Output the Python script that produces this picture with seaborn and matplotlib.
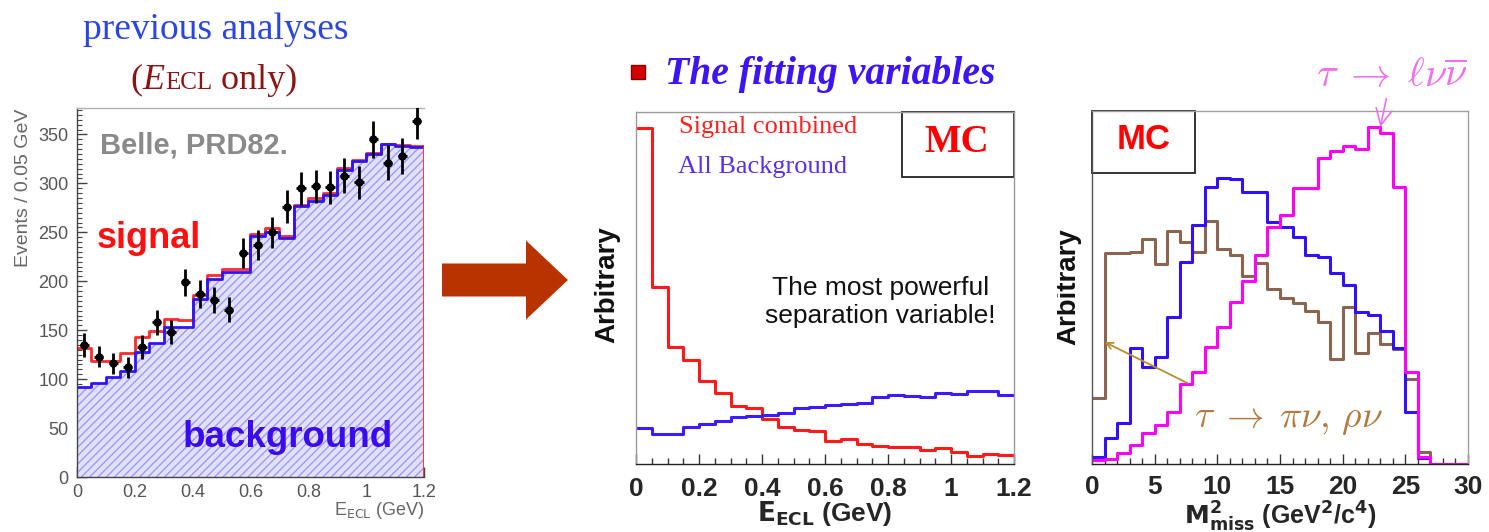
import numpy as np
import pandas as pd
import matplotlib
matplotlib.use("Agg")
import matplotlib.pyplot as plt
import seaborn as sns
from matplotlib.patches import Rectangle, FancyArrow
from matplotlib.ticker import MultipleLocator, FuncFormatter
from matplotlib.offsetbox import TextArea, HPacker, AnnotationBbox

# ---------------- E_ECL fit, Belle PRD82 ----------------
ecl_edges = [round(0.05 * i, 3) for i in range(25)]
ecl_centers = [round(e + 0.025, 3) for e in ecl_edges[:-1]]
belle_bkg = [92, 96, 102, 108, 128, 137, 153, 153, 182, 202, 209, 209,
             246, 250, 244, 277, 282, 288, 314, 323, 330, 340, 338, 337]
belle_total = [132, 119, 119, 127, 143, 149, 161, 160, 186, 206, 212, 212,
               248, 254, 246, 278, 285, 290, 316, 324, 331, 340, 339, 338]
belle_data = [135, 123, 116, 112, 133, 158, 148, 199, 187, 181, 171, 229,
              237, 250, 276, 295, 297, 296, 308, 301, 345, 321, 328, 364]
belle_err = [12, 11, 11, 11, 12, 13, 12, 14, 14, 13, 13, 15,
             15, 16, 17, 17, 17, 17, 18, 17, 19, 18, 18, 19]

# ---------------- MC shapes in E_ECL ----------------
mc_sig = [336, 177, 117, 104, 83, 71, 58, 56, 45, 37, 34, 33,
          23, 25, 20, 18, 17, 17, 14, 16, 12, 8, 10, 9]
mc_bkg = [36, 30, 30, 37, 40, 43, 47, 48, 49, 51, 56, 57,
          59, 60, 61, 67, 69, 68, 67, 71, 70, 73, 73, 69]

# ---------------- MC shapes in missing mass squared ----------------
mm_edges = list(range(31))
mm_centers = [e + 0.5 for e in mm_edges[:-1]]
mm_lnu = [4, 5, 11, 19, 31, 39, 52, 80, 92, 117, 137, 162, 183, 209, 237,
          249, 276, 276, 306, 313, 318, 315, 337, 331, 277, 92, 7, 0, 0, 0]
mm_bkg = [7, 26, 41, 116, 97, 107, 147, 202, 239, 277, 286, 285, 272, 272, 242,
          237, 227, 209, 207, 191, 179, 152, 149, 133, 116, 52, 6, 0, 0, 0]
mm_pinu = [66, 211, 211, 212, 225, 200, 233, 222, 212, 243, 215, 209, 188, 201, 175,
           166, 161, 153, 142, 105, 157, 111, 131, 120, 115, 85, 12, 0, 0, 0]

sns.set_theme(style="ticks")
plt.rcParams.update({
    "font.family": ["Liberation Sans", "DejaVu Sans"],
    "mathtext.fontset": "dejavusans",
    "hatch.linewidth": 1.0,
    "hatch.color": "#9c9cf2",
    "axes.linewidth": 1.0,
})

W, H = 1489, 532
fig = plt.figure(figsize=(W / 100, H / 100), dpi=100)


def px_axes(x0, y0, x1, y1):
    return fig.add_axes([x0 / W, 1 - y1 / H, (x1 - x0) / W, (y1 - y0) / H])


ax1 = px_axes(77, 108, 424, 477)
ax2 = px_axes(636, 112, 1014, 464)
ax3 = px_axes(1092, 111, 1468, 464)
ov = fig.add_axes([0, 0, 1, 1], zorder=10)
ov.set_xlim(0, W)
ov.set_ylim(H, 0)
ov.axis("off")
ov.patch.set_alpha(0)

short = FuncFormatter(lambda v, p: f"{v:g}")


def hist_df(centers, weights):
    return pd.DataFrame({"x": centers, "w": weights})


def step(ax, centers, weights, edges, color, lw):
    sns.histplot(data=hist_df(centers, weights), x="x", weights="w", bins=edges,
                 element="step", fill=False, color=color, linewidth=lw, ax=ax)


# ---------------- left: fit result ----------------
sns.histplot(data=hist_df(ecl_centers, belle_bkg), x="x", weights="w", bins=ecl_edges,
             element="step", fill=True, color="#e2e0fa", alpha=1, ax=ax1)
fill = ax1.collections[-1]
fill.set_facecolor("#e2e0fa")
fill.set_edgecolor("#9c9cf2")
fill.set_hatch("////")
fill.set_linewidth(0)
step(ax1, ecl_centers, belle_total, ecl_edges, "#ff2a2a", 2.0)
step(ax1, ecl_centers, belle_bkg, ecl_edges, "#2d14ff", 2.0)
ax1.vlines(ecl_edges[-1], 0, belle_total[-1], color="#ff2a2a", lw=2.0)
ax1.errorbar(ecl_centers, belle_data, yerr=belle_err, xerr=0.016, fmt="o",
             ms=5, color="black", elinewidth=2, capsize=0, zorder=5)
ax1.set_xlim(0, 1.2)
ax1.set_ylim(0, 377)
ax1.xaxis.set_major_locator(MultipleLocator(0.2))
ax1.xaxis.set_minor_locator(MultipleLocator(0.05))
ax1.yaxis.set_major_locator(MultipleLocator(50))
ax1.yaxis.set_minor_locator(MultipleLocator(5))
ax1.xaxis.set_major_formatter(short)
ax1.tick_params(which="both", direction="in", color="#444", labelcolor="#555",
                labelsize=13, top=False, right=False)
ax1.tick_params(which="major", length=7, width=1)
ax1.tick_params(which="minor", length=3.5, width=0.8)
ax1.tick_params(axis="x", pad=5)
ax1.tick_params(axis="y", pad=6)
ax1.set_ylabel("")
ax1.set_xlabel(r"E$_{\rm ECL}$ (GeV)", fontsize=13, color="#666", ha="right")
ax1.xaxis.set_label_coords(1.0, -0.062)
for s in ("left", "bottom"):
    ax1.spines[s].set_color("#444")
ax1.spines["top"].set_color("#b0b0b0")
ax1.spines["right"].set_visible(False)
ax1.text(0.066, 0.878, "Belle, PRD82.", transform=ax1.transAxes, fontsize=21,
         fontweight="bold", color="#8a8a8a", va="baseline")
ax1.text(0.058, 0.62, "signal", transform=ax1.transAxes, fontsize=26,
         fontweight="bold", color="#ff1010", va="baseline")
ax1.text(0.305, 0.082, "background", transform=ax1.transAxes, fontsize=26.5,
         fontweight="bold", color="#3a0af0", va="baseline")

# ---------------- middle: E_ECL shapes ----------------
step(ax2, ecl_centers, mc_sig, ecl_edges, "#ff1a1a", 2.2)
step(ax2, ecl_centers, mc_bkg, ecl_edges, "#3a1cff", 2.2)
ax2.set_xlim(0, 1.2)
ax2.set_ylim(0, 352)
ax2.set_yticks([])
ax2.xaxis.set_major_locator(MultipleLocator(0.2))
ax2.xaxis.set_minor_locator(MultipleLocator(0.05))
ax2.xaxis.set_major_formatter(short)
ax2.tick_params(which="both", direction="in", color="#333", top=False)
ax2.tick_params(which="major", length=7, width=1)
ax2.tick_params(which="minor", length=4, width=1)
ax2.tick_params(axis="x", labelsize=19, pad=9)
for lab in ax2.get_xticklabels():
    lab.set_fontweight("bold")
ax2.set_ylabel("")
ax2.set_xlabel(r"$\mathbf{E_{ECL}}$ (GeV)", fontsize=19, fontweight="bold")
ax2.xaxis.set_label_coords(0.5, -0.1)
ax2.spines["bottom"].set_color("#222")
for s in ("top", "right", "left"):
    ax2.spines[s].set_color("#9a9a9a")
ax2.add_patch(Rectangle((0.704, 0.815), 0.296, 0.185, transform=ax2.transAxes,
                        fill=False, ec="#222", lw=1.3, clip_on=False))
ax2.text(0.849, 0.912, "MC", transform=ax2.transAxes, ha="center", va="center",
         fontsize=28, fontweight="bold", color="#ff0000", family="Liberation Serif")
ax2.text(0.114, 0.958, "Signal combined", transform=ax2.transAxes, va="center",
         fontsize=19, color="#ff2020", family="Liberation Serif")
ax2.text(0.111, 0.845, "All Background", transform=ax2.transAxes, va="center",
         fontsize=19, color="#5530f0", family="Liberation Serif")
ax2.text(0.646, 0.46, "The most powerful\nseparation variable!", transform=ax2.transAxes,
         ha="center", va="center", fontsize=19, color="#111", linespacing=1.25)

# ---------------- right: missing mass squared ----------------
step(ax3, mm_centers, mm_pinu, mm_edges, "#8c6450", 2.2)
step(ax3, mm_centers, mm_bkg, mm_edges, "#3010ff", 2.2)
step(ax3, mm_centers, mm_lnu, mm_edges, "#ff00ff", 2.2)
ax3.set_xlim(0, 30)
ax3.set_ylim(0, 353)
ax3.set_yticks([])
ax3.xaxis.set_major_locator(MultipleLocator(5))
ax3.xaxis.set_minor_locator(MultipleLocator(1))
ax3.tick_params(which="both", direction="in", color="#333", top=False)
ax3.tick_params(which="major", length=7, width=1)
ax3.tick_params(which="minor", length=4, width=1)
ax3.tick_params(axis="x", labelsize=19, pad=8)
for lab in ax3.get_xticklabels():
    lab.set_fontweight("bold")
ax3.set_ylabel("")
ax3.set_xlabel(r"$\mathbf{M^{2}_{miss}}$ (GeV$^{\mathbf{2}}$/c$^{\mathbf{4}}$)",
               fontsize=18, fontweight="bold")
ax3.xaxis.set_label_coords(0.5, -0.102)
ax3.spines["bottom"].set_color("#222")
ax3.spines["left"].set_color("#555")
for s in ("top", "right"):
    ax3.spines[s].set_color("#a0a0a0")
ax3.add_patch(Rectangle((0, 0.823), 0.275, 0.177, transform=ax3.transAxes,
                        fill=False, ec="#222", lw=1.3, clip_on=False))
ax3.text(0.136, 0.918, "MC", transform=ax3.transAxes, ha="center", va="center",
         fontsize=25, fontweight="bold", color="#ff0000")
ax3.annotate(r"$\tau\;\rightarrow\;\ell\nu\overline{\nu}$",
             xy=(mm_edges[23], mm_lnu[22]), xytext=(23.9, 389),
             ha="center", va="center", fontsize=29, color="#ee70ee",
             math_fontfamily="cm", annotation_clip=False,
             arrowprops=dict(arrowstyle="->", color="#ee70ee", lw=1.2,
                             shrinkA=1, shrinkB=0))
ax3.text(15.7, 45, r"$\tau\;\rightarrow\;\pi\nu,\,\rho\nu$", ha="center", va="center",
         fontsize=27, color="#b07a40", math_fontfamily="cm")
ax3.annotate("", xy=(mm_edges[1], 122), xytext=(7.6, 81),
             arrowprops=dict(arrowstyle="->", color="#b8902a", lw=1.3,
                             shrinkA=0, shrinkB=0))

# ---------------- page-level decorations ----------------
ov.text(216, 39, "previous analyses", ha="center", va="baseline", fontsize=27,
        color="#2b45e3", family="Liberation Serif")
serif = dict(family="Liberation Serif", color="#8b1414")
parts = [TextArea("(", textprops=dict(fontsize=26, **serif)),
         TextArea("E", textprops=dict(fontsize=26, style="italic", **serif)),
         TextArea("ECL", textprops=dict(fontsize=18, **serif)),
         TextArea(" only)", textprops=dict(fontsize=26, **serif))]
ov.add_artist(AnnotationBbox(HPacker(children=parts, align="baseline", pad=0, sep=0),
                             (214, 80), xycoords="data", frameon=False,
                             box_alignment=(0.5, 0.5)))
ov.add_patch(Rectangle((631, 65), 14, 14, fc="#d40000", ec="#8a0000", lw=1))
ov.text(665, 84, "The fitting variables", ha="left", va="baseline", fontsize=28.5,
        fontweight="bold", style="italic", color="#3c14f5", family="Liberation Serif")
ov.add_patch(FancyArrow(442, 280, 126, 0, width=33, head_width=79, head_length=42,
                        length_includes_head=True, color="#b83300", lw=0))
ov.text(24, 188, "Events / 0.05 GeV", rotation=90, ha="center", va="center",
        fontsize=14, color="#666")
ov.text(607, 285, "Arbitrary", rotation=90, ha="center", va="center",
        fontsize=20, fontweight="bold", color="#111")
arb = ov.text(1068, 287, "Arbitrary", rotation=90, ha="center", va="center",
              fontsize=20, fontweight="bold", color="#111", clip_on=True)
arb.set_clip_path(Rectangle((1057, 0), 200, H, transform=ov.transData))

fig.savefig("out.png", dpi=100)
